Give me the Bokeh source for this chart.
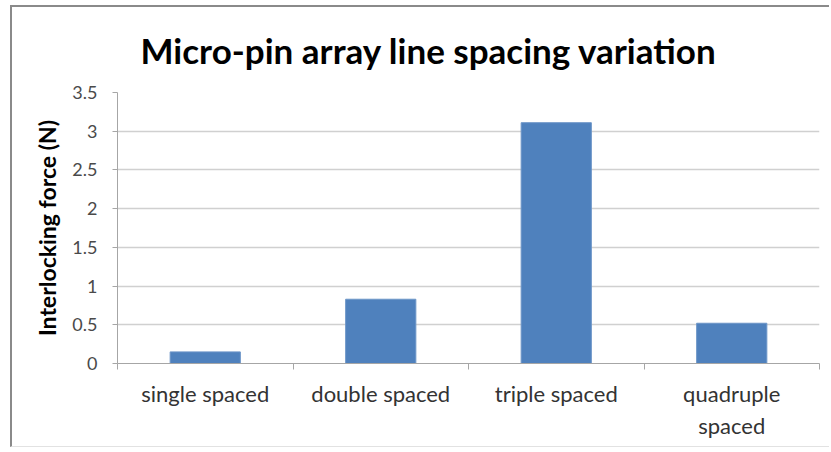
from bokeh.plotting import figure
from bokeh.models import Range1d, FixedTicker
from bokeh.embed import file_html
from bokeh.resources import INLINE

title_text = "Micro-pin array line spacing variation"
categories = ["single spaced", "double spaced", "triple spaced", "quadruple spaced"]
category_labels = ["single spaced", "double spaced", "triple spaced", "quadruple\nspaced"]
forces = [0.15, 0.83, 3.11, 0.52]
y_ticks = [0, 0.5, 1, 1.5, 2, 2.5, 3, 3.5]
y_tick_labels = ["0", "0.5", "1", "1.5", "2", "2.5", "3", "3.5"]

n = len(categories)
x_pos = [i + 0.5 for i in range(n)]
boundaries = list(range(n + 1))

FONT = "Lato"

p = figure(width=819, height=442, output_backend="svg", toolbar_location=None,
           x_range=Range1d(0, n), y_range=Range1d(0, 3.5),
           min_border_left=105, min_border_right=12, min_border_top=85, min_border_bottom=86,
           margin=(5, 0, 0, 10),
           styles={"border-top": "2px solid #8a8a8a", "border-left": "2px solid #8a8a8a",
                   "border-bottom": "1px solid #e2e2e2"},
           title=title_text)

p.vbar(x=x_pos, top=forces, width=0.4, bottom=0,
       fill_color="#4F81BD", line_color="#6d96c8", line_width=1)

p.outline_line_color = None
p.title.text_font = FONT
p.title.text_font_size = "35px"
p.title.text_font_style = "bold"
p.title.text_color = "#000000"
p.title.align = "left"
p.title.vertical_align = "top"
p.title.offset = 23
p.title.standoff = 39

xa = p.xaxis[0]
xa.ticker = FixedTicker(ticks=x_pos, minor_ticks=boundaries)
xa.major_label_overrides = {x: lab for x, lab in zip(x_pos, category_labels)}
xa.major_tick_line_color = None
xa.minor_tick_out = 6
xa.minor_tick_in = 0
xa.minor_tick_line_color = "#a6a6a6"
xa.axis_line_color = "#a6a6a6"
xa.major_label_text_font = FONT
xa.major_label_text_font_size = "22px"
xa.major_label_text_color = "#333333"
xa.major_label_standoff = 10

ya = p.yaxis[0]
ya.ticker = FixedTicker(ticks=y_ticks)
ya.major_label_overrides = {t: lab for t, lab in zip(y_ticks, y_tick_labels)}
ya.major_tick_out = 5
ya.major_tick_in = 0
ya.minor_tick_line_color = None
ya.major_tick_line_color = "#a6a6a6"
ya.axis_line_color = "#a6a6a6"
ya.major_label_text_font = FONT
ya.major_label_text_font_size = "18px"
ya.major_label_text_color = "#4a4a4a"
ya.major_label_standoff = 15
ya.axis_label = "Interlocking force (N)"
ya.axis_label_text_font = FONT
ya.axis_label_text_font_size = "23px"
ya.axis_label_text_font_style = "bold"
ya.axis_label_text_color = "#000000"
ya.axis_label_standoff = 8

p.xgrid.grid_line_color = None
p.ygrid.ticker = FixedTicker(ticks=y_ticks)
p.ygrid.grid_line_color = "#d0d0d0"
p.ygrid.grid_line_width = 1.5

open("out.html", "w").write(file_html(p, INLINE))
